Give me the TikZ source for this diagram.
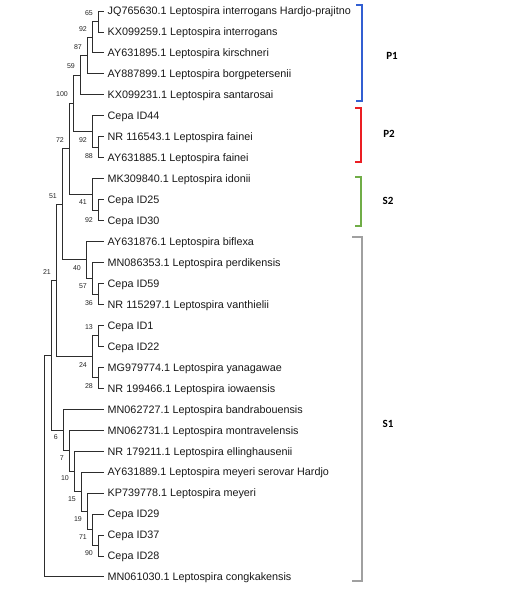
\documentclass[tikz,border=0pt]{standalone}
\usepackage{fontspec}
\setmainfont{Liberation Sans}
\newfontfamily\grpfont{Carlito}
\definecolor{treecol}{RGB}{45,45,45}
\definecolor{p1col}{RGB}{50,95,210}
\definecolor{p2col}{RGB}{235,30,35}
\definecolor{s2col}{RGB}{112,173,71}
\definecolor{s1col}{RGB}{160,160,160}
\begin{document}
\begin{tikzpicture}[x=1pt,y=-1pt,
  tree/.style={draw=treecol, line width=0.9pt},
  tiplab/.style={anchor=base west, inner sep=0pt, font=\fontsize{10.8}{13}\selectfont, text=black!90},
  bslab/.style={anchor=east, inner sep=0pt, font=\fontsize{7}{8}\selectfont, text=black!85},
  grplab/.style={inner sep=0pt, font=\grpfont\bfseries\fontsize{11}{13}\selectfont},
  brk/.style={line width=1.4pt, line cap=rect}]
\fill[white] (0,0) rectangle (506,595);
\useasboundingbox (0,0) rectangle (506,595);
% tip coordinates
\foreach \i in {1,...,28} \coordinate (t\i) at (104,{11+20.96*(\i-1)});
% internal nodes
\coordinate (A) at (98,21.48);
\coordinate (B) at (92,37.2);
\coordinate (C) at (87,55.54);
\coordinate (D) at (80,75.19);
\coordinate (F) at (98,147.24);
\coordinate (E) at (92,131.52);
\coordinate (G) at (73,103.36);
\coordinate (I) at (98,210.12);
\coordinate (J) at (92,194.4);
\coordinate (H) at (69,148.88);
\coordinate (N) at (98,293.96);
\coordinate (M) at (92,278.24);
\coordinate (L) at (86,259.9);
\coordinate (K) at (62,204.39);
\coordinate (O) at (98,335.88);
\coordinate (P) at (98,377.8);
\coordinate (Q) at (92,356.84);
\coordinate (R) at (56,280.62);
\coordinate (Z1) at (98,545.48);
\coordinate (Z2) at (92,529.76);
\coordinate (Z3) at (87,511.42);
\coordinate (Z4) at (81,491.77);
\coordinate (Z5) at (74,471.47);
\coordinate (Z6) at (69,450.83);
\coordinate (Z7) at (63,430.04);
\coordinate (S) at (51,355.33);
\coordinate (Rt) at (44,466.1);
% branches
\foreach \p/\c in {A/t1,A/t2,B/A,B/t3,C/B,C/t4,D/C,D/t5,F/t7,F/t8,E/t6,E/F,G/D,G/E,
  I/t10,I/t11,J/t9,J/I,H/G,H/J,N/t14,N/t15,M/t13,M/N,L/t12,L/M,K/H,K/L,
  O/t16,O/t17,P/t18,P/t19,Q/O,Q/P,R/K,R/Q,
  Z1/t26,Z1/t27,Z2/t25,Z2/Z1,Z3/t24,Z3/Z2,Z4/t23,Z4/Z3,Z5/t22,Z5/Z4,Z6/t21,Z6/Z5,Z7/t20,Z7/Z6,
  S/R,S/Z7,Rt/S,Rt/t28}
  \draw[tree] (\p) |- (\c);
% tip labels
\foreach \i/\t in {1/{JQ765630.1 Leptospira interrogans Hardjo-prajitno},
  2/{KX099259.1 Leptospira interrogans},
  3/{AY631895.1 Leptospira kirschneri},
  4/{AY887899.1 Leptospira borgpetersenii},
  5/{KX099231.1 Leptospira santarosai},
  6/{Cepa ID44},
  7/{NR 116543.1 Leptospira fainei},
  8/{AY631885.1 Leptospira fainei},
  9/{MK309840.1 Leptospira idonii},
  10/{Cepa ID25},
  11/{Cepa ID30},
  12/{AY631876.1 Leptospira biflexa},
  13/{MN086353.1 Leptospira perdikensis},
  14/{Cepa ID59},
  15/{NR 115297.1 Leptospira vanthielii},
  16/{Cepa ID1},
  17/{Cepa ID22},
  18/{MG979774.1 Leptospira yanagawae},
  19/{NR 199466.1 Leptospira iowaensis},
  20/{MN062727.1 Leptospira bandrabouensis},
  21/{MN062731.1 Leptospira montravelensis},
  22/{NR 179211.1 Leptospira ellinghausenii},
  23/{AY631889.1 Leptospira meyeri serovar Hardjo},
  24/{KP739778.1 Leptospira meyeri},
  25/{Cepa ID29},
  26/{Cepa ID37},
  27/{Cepa ID28},
  28/{MN061030.1 Leptospira congkakensis}}
  \node[tiplab] (n\i) at ([xshift=3.5pt,yshift=-3.85pt]t\i) {\t};
% bootstrap values (u = above, d = below)
\foreach \c/\v/\s in {A/65/8.5,B/92/8.5,C/87/8.5,D/59/9,G/100/9,H/72/9,E/92/-8.5,F/88/-9,
  K/51/8,J/41/-8,I/92/-9.5,R/21/9,L/40/-8,M/57/-8,N/36/-9,O/13/9,Q/24/-8,P/28/-8,
  Z7/6/-7,Z6/7/-7,Z5/10/-7,Z4/15/-7,Z3/19/-8,Z2/71/-7.5,Z1/90/-7.5}
  \node[bslab] (b\c) at ([xshift=-5pt,yshift=\s pt]\c) {\v};
% group brackets
\coordinate (p1a) at (357,5);  \coordinate (p1b) at (362,101);
\coordinate (p2a) at (356,108); \coordinate (p2b) at (361,162);
\coordinate (s2a) at (356,177); \coordinate (s2b) at (361,226);
\coordinate (s1a) at (353,237); \coordinate (s1b) at (362,581);
\draw[brk, p1col] (p1a) -- (p1a -| p1b) -- (p1b) -- (p1b -| p1a);
\draw[brk, p2col] (p2a) -- (p2a -| p2b) -- (p2b) -- (p2b -| p2a);
\draw[brk, s2col] (s2a) -- (s2a -| s2b) -- (s2b) -- (s2b -| s2a);
\draw[brk, s1col, line width=2pt] (s1a) -- (s1a -| s1b) -- (s1b) -- (s1b -| s1a);
\node[grplab] (gP1) at (392,56) {P1};
\node[grplab] (gP2) at (389,134) {P2};
\node[grplab] (gS2) at (388,201) {S2};
\node[grplab] (gS1) at (388,424) {S1};
\end{tikzpicture}
\end{document}
